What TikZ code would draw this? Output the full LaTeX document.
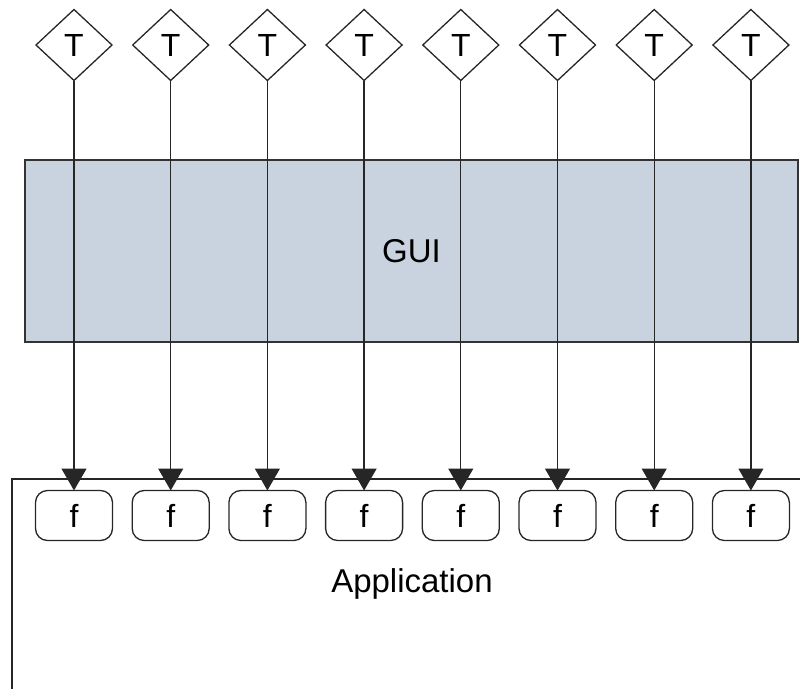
\documentclass[tikz,border=0pt]{standalone}
\usepackage{fontspec}
\setmainfont{Liberation Sans}
\usetikzlibrary{positioning,arrows.meta,shapes.geometric}
\definecolor{guiblue}{RGB}{201,211,223}
\tikzstyle{tdiam}=[diamond, draw=black!85, line width=1.3pt, outer sep=0pt,
                   inner sep=0pt, minimum width=76pt, minimum height=71pt,
                   font=\fontsize{32}{38}\selectfont]
\tikzstyle{fbox}=[rectangle, rounded corners=12pt, draw=black!85, line width=1.3pt,
                  outer sep=0pt, minimum width=77pt, minimum height=50pt,
                  font=\fontsize{32}{38}\selectfont]
\tikzstyle{guibox}=[rectangle, draw=black!80, fill=guiblue, line width=1.3pt,
                    minimum width=773pt, minimum height=182pt,
                    font=\fontsize{33}{40}\selectfont]
\tikzstyle{tline}=[-{Triangle[length=22pt,width=25pt]}, line width=1.3pt, draw=black!85]

\begin{document}
\begin{tikzpicture}[x=1pt,y=-1pt]
\useasboundingbox (0,0) rectangle (800,688);

% the GUI layer
\node (GUI) [guibox] at (411.5,251) {GUI};

% the application
\draw[line width=1.3pt, draw=black!85] (12,690) -- (12,479) -- (802,479);
\node (APP) at (412,584) [font=\fontsize{33}{40}\selectfont] {Application};

% triggers
\node (T1) [tdiam] at (74,45) {T};
\node (T2) [tdiam, right=20.7pt of T1] {T};
\node (T3) [tdiam, right=20.7pt of T2] {T};
\node (T4) [tdiam, right=20.7pt of T3] {T};
\node (T5) [tdiam, right=20.7pt of T4] {T};
\node (T6) [tdiam, right=20.7pt of T5] {T};
\node (T7) [tdiam, right=20.7pt of T6] {T};
\node (T8) [tdiam, right=20.7pt of T7] {T};

% functions
\node (F1) [fbox, below=410pt of T1] {f};
\node (F2) [fbox, below=410pt of T2] {f};
\node (F3) [fbox, below=410pt of T3] {f};
\node (F4) [fbox, below=410pt of T4] {f};
\node (F5) [fbox, below=410pt of T5] {f};
\node (F6) [fbox, below=410pt of T6] {f};
\node (F7) [fbox, below=410pt of T7] {f};
\node (F8) [fbox, below=410pt of T8] {f};

 \draw[tline] (T1.south) -- (F1.north);
 \draw[tline] (T2.south) -- (F2.north);
 \draw[tline] (T3.south) -- (F3.north);
 \draw[tline] (T4.south) -- (F4.north);
 \draw[tline] (T5.south) -- (F5.north);
 \draw[tline] (T6.south) -- (F6.north);
 \draw[tline] (T7.south) -- (F7.north);
 \draw[tline] (T8.south) -- (F8.north);

\end{tikzpicture}
\end{document}
